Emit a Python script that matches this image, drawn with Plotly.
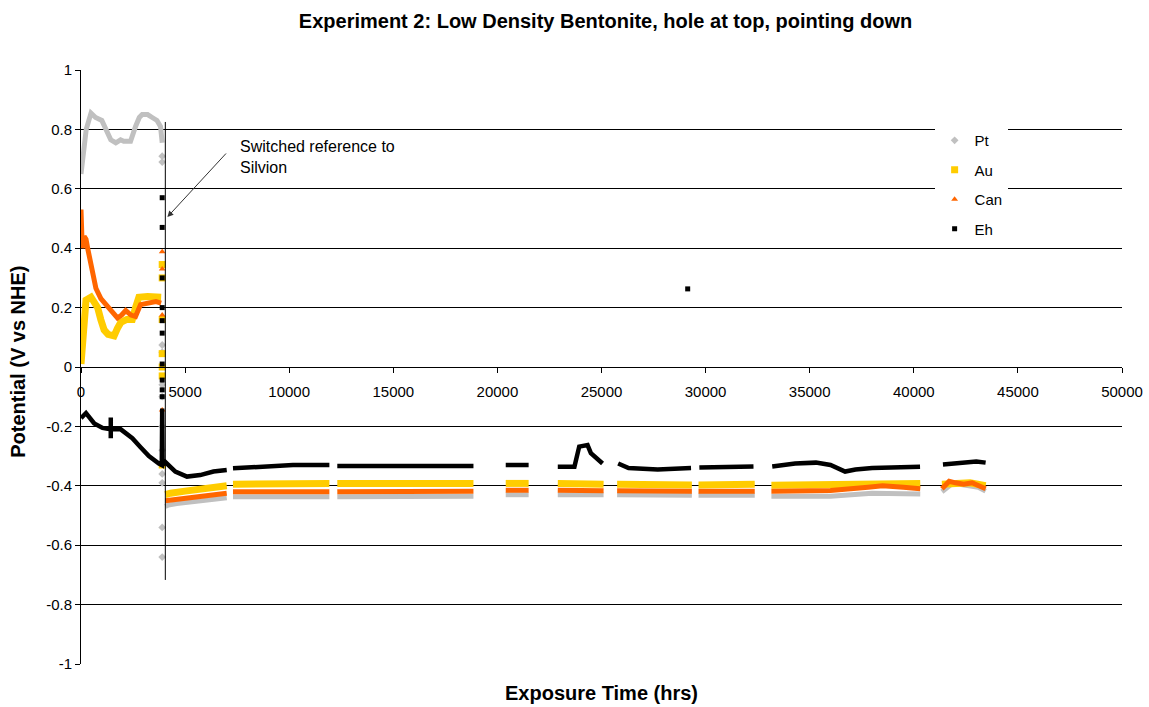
import plotly.graph_objects as go

# ---------------- data ----------------
series_names = ["Pt", "Au", "Can", "Eh"]

pt_x = [0, 100, 250, 480, 700, 1000, 1200, 1430, 1670, 1900, 2050, 2380, 2620, 2800, 2940, 3200, 3420, 3650, 3820, 3900,
        None, 4050, 4200, 4600, 5200, 6000, 7000, None, 7300, 9000, 11930, None, 12310, 15000, 18850, None,
        20400, 21500, None, 22900, 25100, None, 25750, 29340, None, 29660, 32360, None, 33160, 36000, 38000, 40310,
        None, 41350, 41800, 42200, 42700, 43100, 43450]
pt_y = [0.65, 0.72, 0.80, 0.855, 0.84, 0.83, 0.80, 0.765, 0.755, 0.765, 0.76, 0.76, 0.81, 0.84, 0.85, 0.85, 0.84, 0.83, 0.81, 0.755,
        None, -0.47, -0.465, -0.46, -0.455, -0.448, -0.44, None, -0.437, -0.437, -0.437, None, -0.437, -0.437, -0.435, None,
        -0.43, -0.43, None, -0.43, -0.43, None, -0.43, -0.432, None, -0.432, -0.432, None, -0.435, -0.435, -0.425, -0.428,
        None, -0.42, -0.395, -0.395, -0.40, -0.405, -0.418]
pt_pts_x = [3900, 3900, 3900, 3900, 3900, 3900, 3900, 3900, 3900, 3900, 3900, 3900]
pt_pts_y = [0.71, 0.69, 0.074, 0.05, -0.06, -0.10, -0.20, -0.28, -0.36, -0.39, -0.54, -0.64]

au_x = [0, 60, 120, 240, 480, 800, 950, 1110, 1300, 1590, 1750, 1910, 2200, 2465, 2620, 2780, 3200, 3600, 3850,
        None, 4050, 4300, 5000, 6000, 7000, None, 7300, 9000, 11930, None, 12310, 15000, 18850, None,
        20400, 21500, None, 22900, 25100, None, 25750, 29340, None, 29660, 32360, None, 33160, 36000, 38000, 40310,
        None, 41350, 42000, 42700, 43450]
au_y = [0.01, 0.06, 0.15, 0.225, 0.235, 0.20, 0.16, 0.125, 0.11, 0.105, 0.13, 0.15, 0.16, 0.16, 0.20, 0.235, 0.237, 0.237, 0.235,
        None, -0.43, -0.425, -0.418, -0.41, -0.40, None, -0.395, -0.393, -0.392, None, -0.392, -0.392, -0.392, None,
        -0.392, -0.392, None, -0.392, -0.395, None, -0.395, -0.397, None, -0.397, -0.395, None, -0.398, -0.397, -0.392, -0.392,
        None, -0.395, -0.39, -0.39, -0.40]
au_pts_x = [3900, 3900, 3900, 3900, 3900, 3900, 3900]
au_pts_y = [0.345, 0.30, 0.16, 0.045, 0.0, -0.03, -0.33]

can_x = [0, 20, 60, 150, 240, 320, 400, 560, 715, 955, 1200, 1430, 1600, 1750, 1950, 2150, 2400, 2620, 2860, 3200, 3600, 3850,
         None, 4050, 4300, 5000, 6000, 7000, None, 7300, 9000, 11930, None, 12310, 15000, 18850, None,
         20400, 21500, None, 22900, 25100, None, 25750, 29340, None, 29660, 32360, None, 33160, 36000, 37800, 38500, 39500, 40310,
         None, 41350, 41700, 42000, 42400, 42800, 43200, 43450]
can_y = [0.53, 0.45, 0.40, 0.44, 0.43, 0.40, 0.37, 0.315, 0.265, 0.23, 0.21, 0.19, 0.175, 0.165, 0.175, 0.19, 0.175, 0.17, 0.21, 0.215, 0.22, 0.215,
         None, -0.45, -0.448, -0.44, -0.432, -0.425, None, -0.42, -0.42, -0.42, None, -0.42, -0.42, -0.418, None,
         -0.415, -0.415, None, -0.415, -0.417, None, -0.417, -0.418, None, -0.418, -0.418, None, -0.418, -0.416, -0.405, -0.40, -0.405, -0.41,
         None, -0.41, -0.385, -0.39, -0.395, -0.39, -0.40, -0.41]
can_pts_x = [3900, 3900, 3900, 3900]
can_pts_y = [0.388, 0.33, 0.175, -0.145]

eh_x = [0, 240, 635, 1035, 1430, 1430, 1430, 1430, 1910, 2465, 2860, 3260, 3740, 3880, 3900, 3920, 4050, 4135, 4530, 5090, 5725, 6360, 7000,
        None, 7300, 8590, 10180, 11930, None, 12310, 15000, 18850, None, 20400, 21500, None,
        22900, 23700, 23930, 24330, 24490, 24800, 25050, None, 25800, 26300, 27700, 29300, None, 29700, 32300, None,
        33200, 34300, 35300, 36000, 36700, 37200, 38000, 40300, None, 41400, 42500, 43000, 43450]
eh_y = [-0.172, -0.155, -0.19, -0.205, -0.21, -0.17, -0.24, -0.21, -0.21, -0.24, -0.27, -0.30, -0.325, -0.33, -0.14, -0.33, -0.32, -0.325, -0.352, -0.369, -0.364, -0.352, -0.347,
        None, -0.341, -0.335, -0.33, -0.33, None, -0.333, -0.333, -0.333, None, -0.33, -0.33, None,
        -0.336, -0.336, -0.268, -0.263, -0.29, -0.31, -0.325, None, -0.325, -0.34, -0.345, -0.34, None, -0.338, -0.335, None,
        -0.335, -0.325, -0.322, -0.33, -0.352, -0.345, -0.34, -0.336, None, -0.328, -0.322, -0.318, -0.322]
eh_pts_x = [3900, 3900, 3900, 3900, 3900, 3900, 3900, 3900, 3900, 3900, 29140]
eh_pts_y = [0.57, 0.47, 0.30, 0.20, 0.156, 0.114, 0.01, -0.044, -0.077, -0.10, 0.263]

x_tickvals = [0, 5000, 10000, 15000, 20000, 25000, 30000, 35000, 40000, 45000, 50000]
x_ticktext = ["0", "5000", "10000", "15000", "20000", "25000", "30000", "35000", "40000", "45000", "50000"]
y_tickvals = [-1, -0.8, -0.6, -0.4, -0.2, 0, 0.2, 0.4, 0.6, 0.8, 1]
y_ticktext = ["-1", "-0.8", "-0.6", "-0.4", "-0.2", "0", "0.2", "0.4", "0.6", "0.8", "1"]

switch_x = 4050
switch_y = [0.825, -0.717]

# ---------------- styles ----------------
FONT = "Arial, 'Liberation Sans', sans-serif"
colors = {"Pt": "#C0C0C0", "Au": "#FFCC00", "Can": "#FF6600", "Eh": "#000000"}
symbols = {"Pt": "diamond", "Au": "square", "Can": "triangle-up", "Eh": "square"}
msize = {"Pt": 6, "Au": 7, "Can": 6, "Eh": 5}
lwidth = {"Pt": 5, "Au": 7, "Can": 5, "Eh": 4.5}

lines = {"Pt": (pt_x, pt_y), "Au": (au_x, au_y), "Can": (can_x, can_y), "Eh": (eh_x, eh_y)}
pts = {"Pt": (pt_pts_x, pt_pts_y), "Au": (au_pts_x, au_pts_y), "Can": (can_pts_x, can_pts_y), "Eh": (eh_pts_x, eh_pts_y)}

fig = go.Figure()
for name in series_names:
    lx, ly = lines[name]
    fig.add_trace(go.Scatter(x=lx, y=ly, mode="lines", name=name, legendgroup=name, showlegend=False,
                             line=dict(color=colors[name], width=lwidth[name]), hoverinfo="skip"))
    px_, py_ = pts[name]
    fig.add_trace(go.Scatter(x=px_, y=py_, mode="markers", name=name, legendgroup=name, showlegend=True,
                             marker=dict(color=colors[name], symbol=symbols[name], size=msize[name],
                                         line=dict(width=0))))

fig.add_shape(type="line", x0=switch_x, x1=switch_x, y0=switch_y[0], y1=switch_y[1],
              xref="x", yref="y", line=dict(color="black", width=1))

fig.add_annotation(x=4150, y=0.505, ax=60, ay=-65, text="", showarrow=True, arrowhead=2,
                   arrowsize=1.2, arrowwidth=1, arrowcolor="#333333", xref="x", yref="y")
fig.add_annotation(x=7550, y=0.744, text="Switched reference to", showarrow=False, xanchor="left",
                   font=dict(family=FONT, size=16, color="#000"))
fig.add_annotation(x=7550, y=0.673, text="Silvion", showarrow=False, xanchor="left",
                   font=dict(family=FONT, size=16, color="#000"))

fig.add_annotation(x=0.5, y=-0.049, xref="paper", yref="paper", text="<b>Exposure Time (hrs)</b>",
                   showarrow=False, font=dict(family=FONT, size=20, color="#000"), yanchor="middle")
fig.add_annotation(x=-0.06, y=0.508, xref="paper", yref="paper", text="<b>Potential (V vs NHE)</b>",
                   showarrow=False, textangle=-90, font=dict(family=FONT, size=20, color="#000"),
                   xanchor="center", yanchor="middle")

fig.update_layout(
    width=1149, height=707,
    margin=dict(l=81, r=27, t=70, b=43),
    paper_bgcolor="white", plot_bgcolor="white",
    font=dict(family=FONT, size=15, color="#000"),
    title=dict(text="<b>Experiment 2: Low Density Bentonite, hole at top, pointing down</b>",
               x=0.527, xanchor="center", y=1 - 21 / 707, yanchor="middle",
               font=dict(family=FONT, size=20, color="#000")),
    showlegend=True,
    legend=dict(x=0.82, y=0.909, xanchor="left", yanchor="top", bgcolor="white",
                traceorder="grouped", tracegroupgap=7, itemwidth=30,
                font=dict(family=FONT, size=15, color="#000")),
    xaxis=dict(range=[0, 50000], tickvals=x_tickvals, ticktext=x_ticktext, showgrid=False, zeroline=False,
               showline=True, linecolor="black", linewidth=1, ticks="outside", ticklen=5, tickcolor="black",
               anchor="free", position=0.5, automargin=False, ticklabelstandoff=6,
               tickfont=dict(family=FONT, size=15, color="#000")),
    yaxis=dict(range=[-1, 1], tickvals=y_tickvals, ticktext=y_ticktext, showgrid=True, gridcolor="black",
               gridwidth=1, zeroline=False, showline=True, linecolor="black", linewidth=1, automargin=False,
               ticks="outside", ticklen=5, tickcolor="black", tickfont=dict(family=FONT, size=15, color="#000")),
)

fig.write_html("out.html", config={"displayModeBar": False},
               post_script="document.body.style.margin='0';")
